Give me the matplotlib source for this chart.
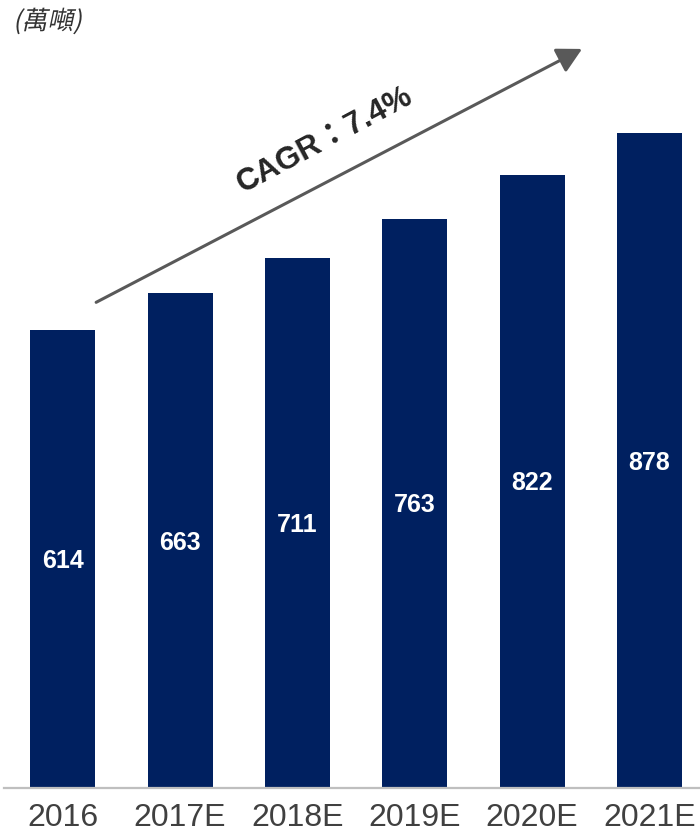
import matplotlib
matplotlib.use("Agg")
import matplotlib.pyplot as plt
from matplotlib.patheffects import AbstractPathEffect
from matplotlib.transforms import Affine2D

# data
years = ["2016", "2017E", "2018E", "2019E", "2020E", "2021E"]
volumes = [614, 663, 711, 763, 822, 878]
unit_label = "(萬噸)"
cagr_label = "CAGR：7.4%"


class Slant(AbstractPathEffect):
    # fake italic for CJK glyphs which have no italic face
    def __init__(self, deg=12):
        super().__init__()
        self.deg = deg

    def draw_path(self, renderer, gc, tpath, affine, rgbFace=None):
        renderer.draw_path(gc, tpath, Affine2D().skew_deg(self.deg, 0) + affine, rgbFace)


plt.rcParams['font.family'] = ['Liberation Sans', 'Noto Sans CJK TC', 'DejaVu Sans']

fig = plt.figure(figsize=(7, 8.33), dpi=100)
ax = fig.add_axes([4 / 700, 45.5 / 833, 696 / 700, 747.5 / 833])

x = range(len(years))
bars = ax.bar(x, volumes, width=0.554, color='#002060', zorder=2)

for xi, v in zip(x, volumes):
    ax.text(xi, v / 2 - 3, str(v), ha='center', va='center', color='white',
            fontsize=18, fontweight='bold')

ax.set_xlim(-0.5, 5.43)
ax.set_ylim(0, 1003)
ax.set_xticks(list(x))
ax.set_xticklabels(years, fontsize=23, color='#404040')
ax.tick_params(axis='x', length=0, pad=11)
ax.set_yticks([])
for s in ['top', 'left', 'right']:
    ax.spines[s].set_visible(False)
ax.spines['bottom'].set_color('#BFBFBF')
ax.spines['bottom'].set_linewidth(1.6)

# CAGR arrow
ax.annotate('', xy=(4.425, 991), xytext=(0.285, 651),
            arrowprops=dict(arrowstyle='-|>,head_length=0.75,head_width=0.4',
                            lw=2.2, color='#595959', mutation_scale=20,
                            shrinkA=0, shrinkB=0),
            annotation_clip=False)
ax.text(2.236, 868, cagr_label, ha='center', va='center', rotation=28,
        rotation_mode='anchor', fontsize=22.5, fontweight='bold', color='#262626')

fig.text(13 / 700, 1 - 22 / 833, unit_label, ha='left', va='center',
         fontsize=18.5, color='#333333',
         family=['Noto Sans CJK TC', 'DejaVu Sans'],
         path_effects=[Slant(12)])

fig.savefig("out.png", dpi=100)
